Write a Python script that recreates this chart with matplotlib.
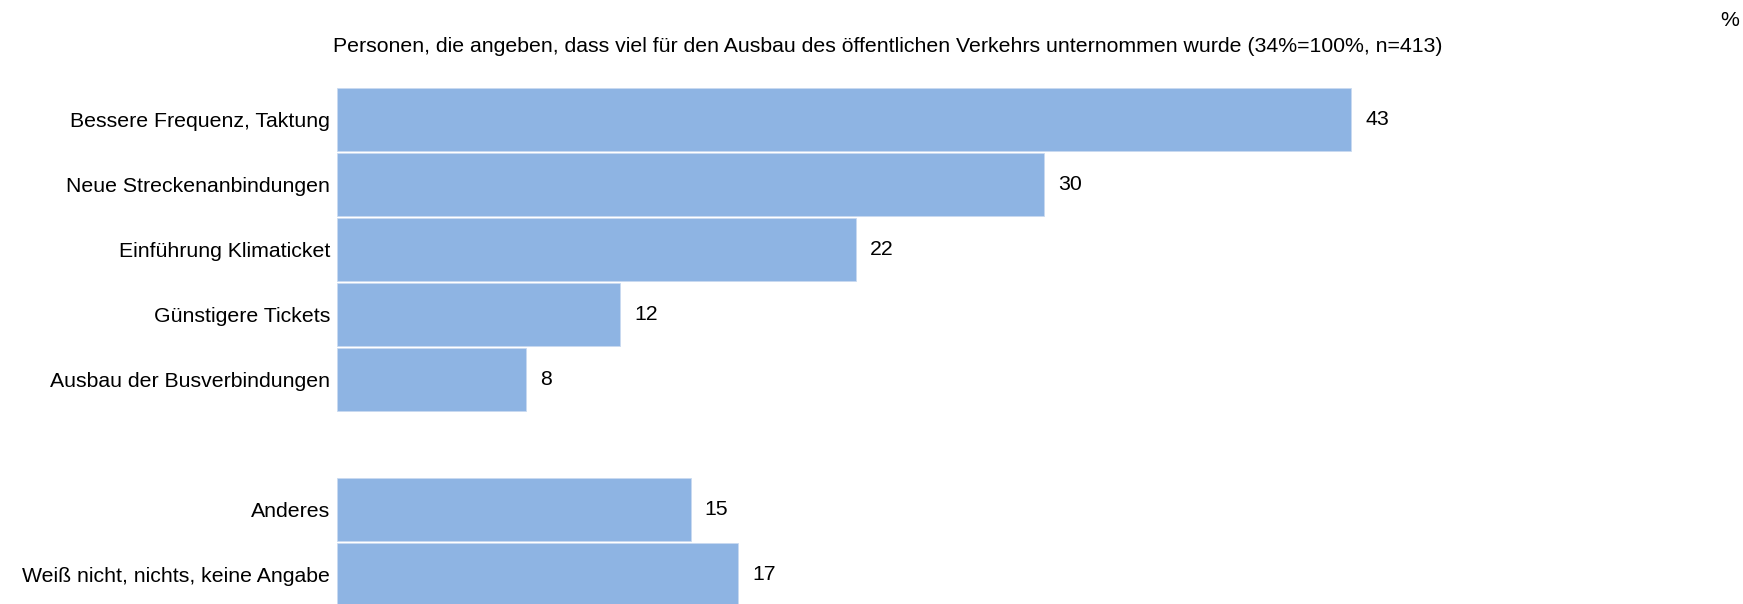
#!/usr/bin/env python3
"""
plot.py
Horizontal bar chart: what was done to expand public transport
"""
import numpy as np
import matplotlib.pyplot as plt

categories = [
    'Bessere Frequenz, Taktung',
    'Neue Streckenanbindungen',
    'Einführung Klimaticket',
    'Günstigere Tickets',
    'Ausbau der Busverbindungen',
    'Anderes',
    'Weiß nicht, nichts, keine Angabe',
]
values = [43, 30, 22, 12, 8, 15, 17]
# row slots; slot 5 stays empty to separate the last two answers
slots = [0, 1, 2, 3, 4, 6, 7]
title = ('Personen, die angeben, dass viel für den Ausbau des öffentlichen '
         'Verkehrs unternommen wurde (34%=100%, n=413)')

plt.rcParams['font.family'] = ['Liberation Sans', 'DejaVu Sans']
FS = 15.3

W, H = 1743, 604
fig = plt.figure(figsize=(W / 100, H / 100), dpi=100)

# axes laid out in pixels: left edge of bars, top of first bar
left, top, px_per_unit, pitch = 337, 86.7, 23.58, 65.0
right = W - 20
ax = fig.add_axes([left / W, 0, (right - left) / W, (H - top) / H])
ax.set_xlim(0, (right - left) / px_per_unit)
ax.set_ylim(-0.5 + (H - top) / pitch, -0.5)

ax.barh(slots, values, height=0.97, color='#8EB4E3',
        edgecolor='#C9DAF0', linewidth=0.6)
for y, v in zip(slots, values):
    ax.text(v + 0.6, y, str(v), va='center', ha='left', fontsize=FS)

ax.set_yticks(slots)
ax.set_yticklabels(categories, fontsize=FS)
ax.tick_params(axis='y', length=0, pad=5)
ax.set_xticks([])
for s in ax.spines.values():
    s.set_visible(False)

fig.text(888 / W, 1 - 47 / H, title, ha='center', va='center', fontsize=FS)
fig.text(1730 / W, 1 - 20 / H, '%', ha='center', va='center', fontsize=FS)

fig.savefig('out.png', dpi=100)
